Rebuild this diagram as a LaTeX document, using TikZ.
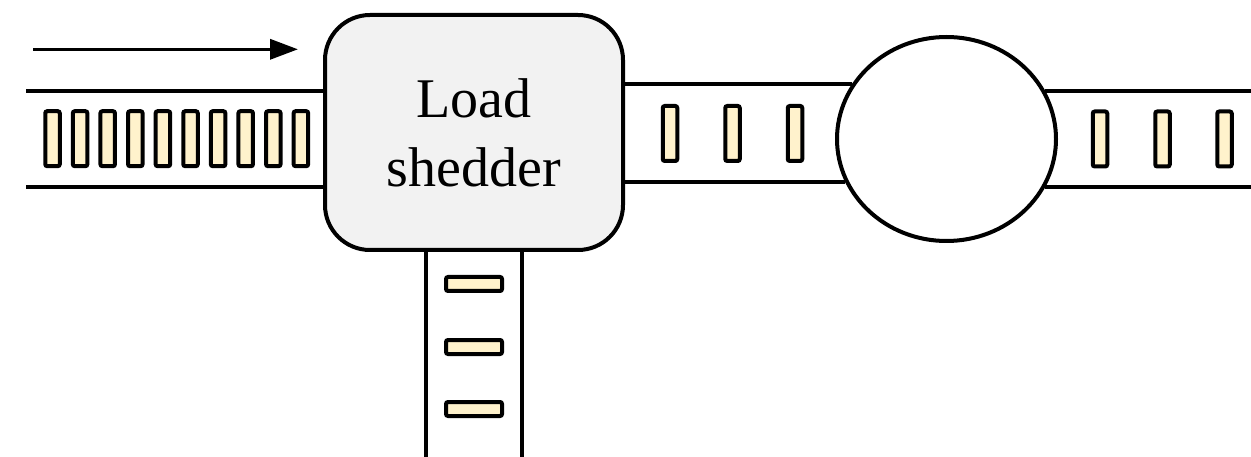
\documentclass[tikz,border=0pt]{standalone}
\usepackage{fontspec}
\setmainfont{Liberation Serif}
\usetikzlibrary{arrows.meta,shapes.geometric}

\definecolor{tuplefill}{HTML}{FFF2CC}
\definecolor{boxfill}{HTML}{F2F2F2}

\tikzset{
  chan/.style={line width=4pt},
  tuple/.style={draw, line width=4pt, fill=tuplefill, rounded corners=2pt,
                inner sep=0pt, outer sep=0pt},
  vtuple/.style={tuple, minimum width=14.5pt, minimum height=55pt},
  htuple/.style={tuple, minimum width=56pt, minimum height=14pt},
  shedderbox/.style={draw, line width=4pt, fill=boxfill, rounded corners=45pt,
                     minimum width=298pt, minimum height=235pt,
                     inner sep=0pt, align=center,
                     font=\fontsize{56}{69}\selectfont},
  opnode/.style={draw, ellipse, line width=4pt,
                 minimum width=219pt, minimum height=204pt, inner sep=0pt}
}

\begin{document}
\begin{tikzpicture}[x=1pt, y=-1pt]
  \useasboundingbox (0,0) rectangle (1251,457);

  % processing stages
  \node[shedderbox] (shedder) at (474,132.5) {Load\\shedder};
  \node[opnode] (op) at (946.5,139) {};

  % free ends of the streams
  \coordinate (arrowStart) at (33,49.3);
  \coordinate (arrowEnd)   at (298,49.3);
  \coordinate (inTop)      at (26,90.7);
  \coordinate (inBot)      at (26,186.7);
  \coordinate (rightEdge)  at (1251,0);
  \coordinate (dropL)      at (426,457);
  \coordinate (dropR)      at (522,457);

  % direction of the incoming stream
  \draw[line width=3.5pt, -{Triangle[length=28pt,width=20pt]}] (arrowStart) -- (arrowEnd);

  % input channel
  \draw[chan] (inTop) -- (inTop -| shedder.west);
  \draw[chan] (inBot) -- (inBot -| shedder.west);

  % channel between shedder and operator
  \draw[chan] (shedder.east |- op.150) -- (op.150);
  \draw[chan] (shedder.east |- op.203.5) -- (op.203.5);

  % output channel
  \draw[chan] (op.26.5) -- (op.26.5 -| rightEdge);
  \draw[chan] (op.-26.1) -- (op.-26.1 -| rightEdge);

  % dropped tuples channel
  \draw[chan] (dropL |- shedder.south) -- (dropL);
  \draw[chan] (dropR |- shedder.south) -- (dropR);

  % queued tuples
  \foreach \i in {0,...,9}
    \node[vtuple] (in\i) at (52.5+27.6*\i,138.7) {};
  \foreach \x [count=\i] in {670,732.5,795}
    \node[vtuple] (mid\i) at (\x,133.5) {};
  \foreach \x [count=\i] in {1100,1162.5,1224.5}
    \node[vtuple] (out\i) at (\x,139) {};
  \foreach \y [count=\i] in {284,347,409}
    \node[htuple] (drop\i) at (474,\y) {};
\end{tikzpicture}
\end{document}
